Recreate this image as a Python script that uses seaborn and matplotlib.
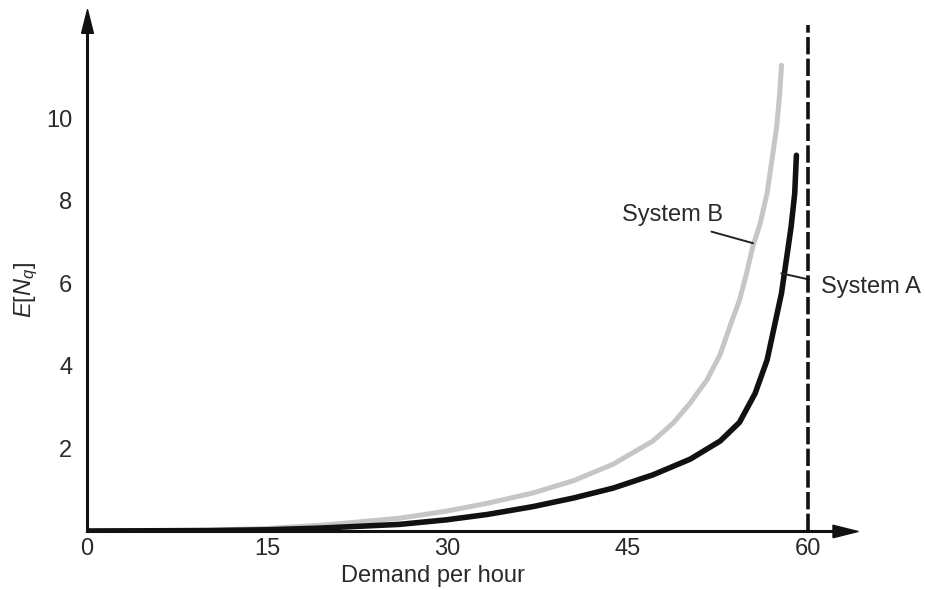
import numpy as np
import pandas as pd
import matplotlib
matplotlib.use("Agg")
import matplotlib.pyplot as plt
import seaborn as sns

# Data (demand per hour -> E[Nq])
a_x = [0, 10, 15, 19.4, 26.0, 29.9, 33.3, 37.1, 40.5, 43.8, 47.1, 50.2, 52.7, 54.3,
       55.6, 56.6, 57.2, 57.8, 58.2, 58.6, 58.9, 59.04]
a_y = [0, 0.01, 0.03, 0.07, 0.16, 0.27, 0.40, 0.59, 0.80, 1.04, 1.36, 1.74, 2.18, 2.63,
       3.33, 4.14, 4.95, 5.76, 6.56, 7.37, 8.18, 9.10]
b_x = [0, 10, 15, 20, 26.0, 29.9, 33.3, 37.1, 40.5, 43.8, 47.1, 48.8, 50.2, 51.6, 52.7,
       53.5, 54.3, 54.9, 55.4, 56.0, 56.6, 57.0, 57.4, 57.65, 57.8]
b_y = [0, 0.02, 0.06, 0.15, 0.31, 0.48, 0.67, 0.92, 1.22, 1.62, 2.18, 2.62, 3.10, 3.66,
       4.28, 4.95, 5.59, 6.25, 6.88, 7.42, 8.18, 8.98, 9.79, 10.60, 11.28]
x_ticks = [0, 15, 30, 45, 60]
y_ticks = [2, 4, 6, 8, 10]
capacity = 60

df = pd.concat([
    pd.DataFrame({"demand": a_x, "enq": a_y, "system": "System A"}),
    pd.DataFrame({"demand": b_x, "enq": b_y, "system": "System B"}),
], ignore_index=True)

sns.set_theme(style="white")
plt.rcParams["font.family"] = ["Liberation Sans", "DejaVu Sans"]
plt.rcParams["mathtext.fontset"] = "custom"
plt.rcParams["mathtext.it"] = "Liberation Sans:italic"
plt.rcParams["mathtext.rm"] = "Liberation Sans"

FS = 17
TXT = "#2a2a2a"
INK = "#111111"

fig = plt.figure(figsize=(9.25, 5.9), dpi=100)
ax = fig.add_axes([87 / 925, 0.1, 763 / 925, 512 / 590])

sns.lineplot(data=df[df.system == "System B"], x="demand", y="enq", color="#c6c6c6",
             linewidth=3.6, ax=ax, legend=False, sort=False, estimator=None,
             solid_joinstyle="round", solid_capstyle="round")
sns.lineplot(data=df[df.system == "System A"], x="demand", y="enq", color=INK,
             linewidth=4.0, ax=ax, legend=False, sort=False, estimator=None,
             solid_joinstyle="round", solid_capstyle="round")

ax.set_xlim(0, 63.5)
ax.set_ylim(0, 12.4)

# capacity line
ax.plot([capacity, capacity], [0, 12.25], color=INK, linewidth=2.6,
        dashes=(4.8, 1.2), dash_capstyle="butt", zorder=3, clip_on=False)

for s in ["top", "right"]:
    ax.spines[s].set_visible(False)
for s in ["left", "bottom"]:
    ax.spines[s].set_linewidth(2.2)
    ax.spines[s].set_color(INK)
    ax.spines[s].set_zorder(4)

# axis arrows (elongated triangles)
right_arrow = [(-1, -0.5), (1, 0), (-1, 0.5), (-1, -0.5)]
up_arrow = [(-0.5, -1), (0, 1), (0.5, -1), (-0.5, -1)]
ax.plot([63.1], [0], marker=right_arrow, markersize=18, color=INK, clip_on=False,
        linestyle="none", zorder=5)
ax.plot([0], [12.34], marker=up_arrow, markersize=17, color=INK, clip_on=False,
        linestyle="none", zorder=5)

ax.set_xticks(x_ticks)
ax.set_xticklabels([str(t) for t in x_ticks])
ax.set_yticks(y_ticks)
ax.set_yticklabels([str(t) for t in y_ticks])
ax.tick_params(axis="x", direction="inout", length=9, width=1.8, colors=INK,
               labelsize=FS, pad=0.5, labelcolor=TXT)
ax.tick_params(axis="y", length=0, labelsize=FS, pad=10.5, labelcolor=TXT)

ax.set_xlabel("Demand per hour", fontsize=FS, color=TXT)
ax.xaxis.set_label_coords(0.453, -0.066)
ax.xaxis.label.set_va("top")
ax.set_ylabel("$E[N_q]$", fontsize=FS, color=TXT)
ax.yaxis.set_label_coords(-0.061, 0.47)

# annotations with leader lines
ax.text(48.75, 7.65, "System B", fontsize=FS, color=TXT, ha="center", va="center")
ax.plot([51.97, 55.43], [7.25, 6.97], color="#222222", linewidth=1.4, zorder=2)
ax.text(61.12, 5.92, "System A", fontsize=FS, color=TXT, ha="left", va="center")
ax.plot([57.79, 60.1], [6.24, 6.09], color="#222222", linewidth=1.4, zorder=2)

fig.savefig("out.png", dpi=100, facecolor="white")
